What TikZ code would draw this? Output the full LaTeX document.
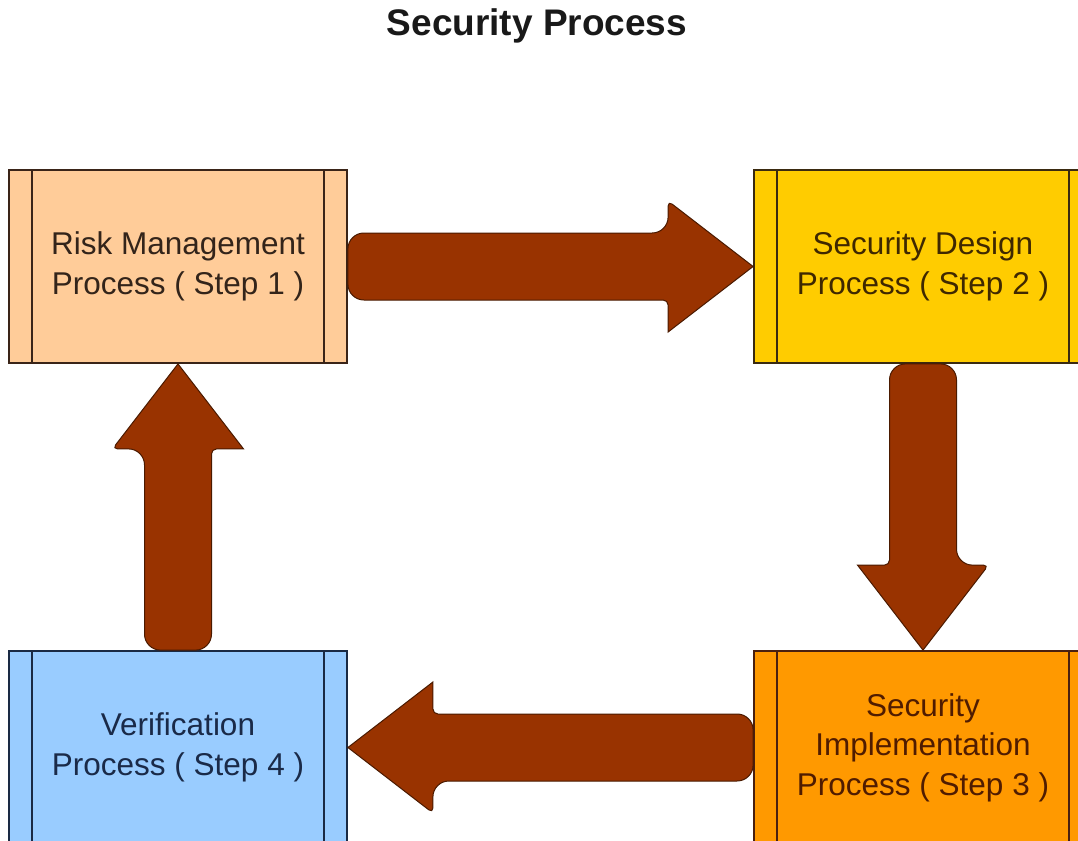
\documentclass[tikz,border=0pt]{standalone}
\usepackage{fontspec}
\setmainfont{Liberation Sans}
\usetikzlibrary{calc}
\definecolor{fA}{HTML}{FFCC99}
\definecolor{fB}{HTML}{FFCC00}
\definecolor{fC}{HTML}{FF9900}
\definecolor{fD}{HTML}{99CCFF}
\definecolor{bA}{HTML}{3A2418}
\definecolor{bB}{HTML}{3A2A10}
\definecolor{bC}{HTML}{4A2010}
\definecolor{bD}{HTML}{1A2A44}
\definecolor{tA}{HTML}{33241A}
\definecolor{tB}{HTML}{3F2800}
\definecolor{tC}{HTML}{501C00}
\definecolor{tD}{HTML}{1A2A48}
\definecolor{arrfill}{HTML}{993300}
\definecolor{arrline}{HTML}{4A1A00}
\newcommand\blockarrow[2]{%
  \draw[barrow] let \p1=($(#2)-(#1)$), \n1={veclen(\x1,\y1)}, \n2={atan2(\y1,\x1)} in
    [shift={(#1)}, rotate=\n2]
    (\n1,0) -- (\n1-85,65.5) [rounded corners=5pt] -- (\n1-85,33.5)
    [rounded corners=16pt] -- (0,33.5) -- (0,-33.5) -- (\n1-85,-33.5)
    [rounded corners=5pt] -- (\n1-85,-65.5) [sharp corners] -- cycle;}
\begin{document}
\begin{tikzpicture}[x=1pt,y=-1pt,
  box/.style={line width=1.8pt, minimum width=338pt, minimum height=193pt,
    inner sep=0pt, align=center, font=\fontsize{31.5}{39.5}\selectfont},
  sideline/.style={line width=1.8pt},
  barrow/.style={fill=arrfill, draw=arrline, line width=1pt},
  titlefont/.style={font=\fontsize{37}{44}\selectfont\bfseries, text=black!90}]
\useasboundingbox (0,0) rectangle (1078,840);
\node[titlefont] (title) at (537,26) {Security Process};
\node[box, draw=bA, fill=fA, text=tA] (r1) at (178,266.5) {Risk Management\\Process ( Step 1 )};
\node[box, draw=bB, fill=fB, text=tB] (r2) at (923,266.5) {Security Design\\Process ( Step 2 )};
\node[box, draw=bC, fill=fC, text=tC] (r3) at (923,747.5) {Security\\Implementation\\Process ( Step 3 )};
\node[box, draw=bD, fill=fD, text=tD] (r4) at (178,747.5) {Verification\\Process ( Step 4 )};
\foreach \n/\c in {r1/bA, r2/bB, r3/bC, r4/bD}{
  \draw[sideline, draw=\c] ([xshift=24pt]\n.north west) -- ([xshift=24pt]\n.south west);
  \draw[sideline, draw=\c] ([xshift=-24pt]\n.north east) -- ([xshift=-24pt]\n.south east);
}
\blockarrow{r1.east}{r2.west}
\blockarrow{r2.south}{r3.north}
\blockarrow{r3.west}{r4.east}
\blockarrow{r4.north}{r1.south}
\end{tikzpicture}
\end{document}
